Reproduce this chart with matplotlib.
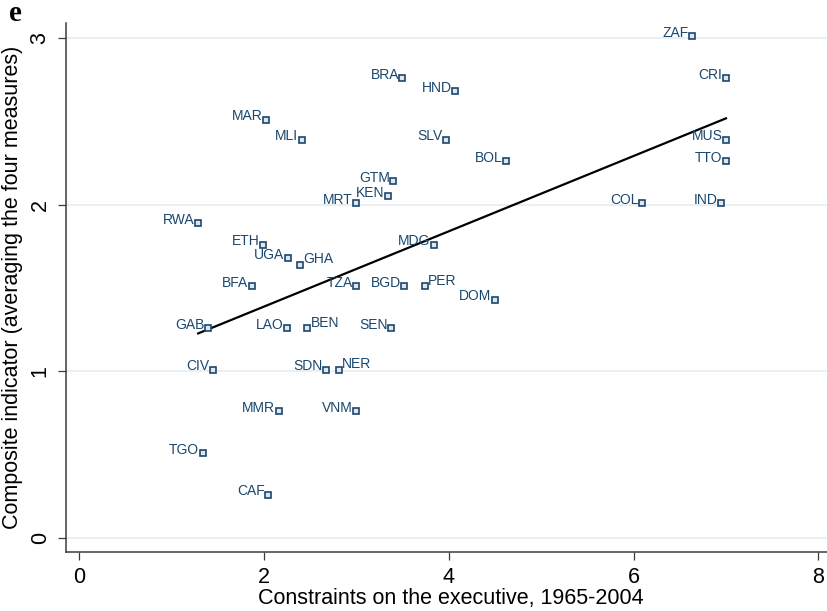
import numpy as np
import matplotlib
matplotlib.use("Agg")
from matplotlib import pyplot as plt

# country codes and values
countries = ["ZAF", "BRA", "HND", "CRI", "MAR", "MLI", "SLV", "MUS", "BOL", "TTO",
             "GTM", "KEN", "MRT", "COL", "IND", "RWA", "ETH", "MDG", "UGA", "GHA",
             "BFA", "TZA", "BGD", "PER", "DOM", "GAB", "LAO", "BEN", "SEN", "CIV",
             "SDN", "NER", "MMR", "VNM", "TGO", "CAF"]
exec_constraints = [6.63, 3.50, 4.07, 7.00, 2.02, 2.41, 3.97, 7.00, 4.62, 7.00,
                    3.40, 3.34, 3.00, 6.09, 6.95, 1.29, 1.99, 3.84, 2.26, 2.39,
                    1.87, 3.00, 3.52, 3.74, 4.50, 1.40, 2.25, 2.47, 3.38, 1.45,
                    2.67, 2.81, 2.16, 3.00, 1.34, 2.05]
composite = [3.01, 2.76, 2.68, 2.76, 2.51, 2.39, 2.39, 2.39, 2.26, 2.26,
             2.14, 2.05, 2.01, 2.01, 2.01, 1.89, 1.76, 1.76, 1.68, 1.64,
             1.51, 1.51, 1.51, 1.51, 1.43, 1.26, 1.26, 1.26, 1.26, 1.01,
             1.01, 1.01, 0.76, 0.76, 0.51, 0.26]

# labels that sit to the right of their marker
right_labels = {"GHA", "BEN", "NER", "PER"}

# linear fit drawn over the data range
fit_intercept = 0.936
fit_slope = 0.226

x = np.array(exec_constraints)
y = np.array(composite)

navy = "#1a476f"
axis_col = "#3c3c3c"

plt.rcParams["font.family"] = ["Liberation Sans", "DejaVu Sans"]

fig = plt.figure(figsize=(8.27, 6.11), dpi=100)
ax = fig.add_axes([66/827, 59/611, 770/827, 529/611])

######################################################
# Scatter + labels                                   #
######################################################
ax.plot(x, y, linestyle="none", marker="s", markersize=3.8,
        markerfacecolor="#dfe6ee", markeredgecolor=navy, markeredgewidth=1.2,
        zorder=3)

for name, xi, yi in zip(countries, x, y):
    if name in right_labels:
        ax.annotate(name, (xi, yi), xytext=(2.5, 1), textcoords="offset points",
                    ha="left", va="baseline", fontsize=10, color=navy)
    else:
        ax.annotate(name, (xi, yi), xytext=(-2.5, -0.5), textcoords="offset points",
                    ha="right", va="baseline", fontsize=10, color=navy)

xf = np.array([x.min(), x.max()])
ax.plot(xf, fit_intercept + fit_slope * xf, color="black", linewidth=1.6, zorder=2)

######################################################
# Axes styling                                       #
######################################################
ax.set_xlim(-0.14, 8.19)
ax.set_ylim(-0.084, 3.09)
ax.set_xticks([0, 2, 4, 6, 8])
ax.set_yticks([0, 1, 2, 3])

ax.grid(axis="y", color="#e4edf1", linewidth=1.2)
ax.set_axisbelow(True)

for side in ["top", "right"]:
    ax.spines[side].set_visible(False)
for side in ["left", "bottom"]:
    ax.spines[side].set_color(axis_col)
    ax.spines[side].set_linewidth(1.1)

ax.tick_params(axis="both", direction="out", length=6, width=0.9,
               color=axis_col, labelsize=15.5, pad=5, labelcolor="black")
plt.setp(ax.get_yticklabels(), rotation=90, va="center")

ax.set_xlabel("Constraints on the executive, 1965-2004", fontsize=15.5)
ax.set_ylabel("Composite indicator (averaging the four measures)", fontsize=15.5)
ax.xaxis.set_label_coords(0.5, -0.068)
ax.yaxis.set_label_coords(-0.056, 0.5)

fig.text(9/827, 1 - 21/611, "e", family="Liberation Serif", fontweight="bold",
         fontsize=21, va="baseline", ha="left")

fig.savefig("out.png", dpi=100)
